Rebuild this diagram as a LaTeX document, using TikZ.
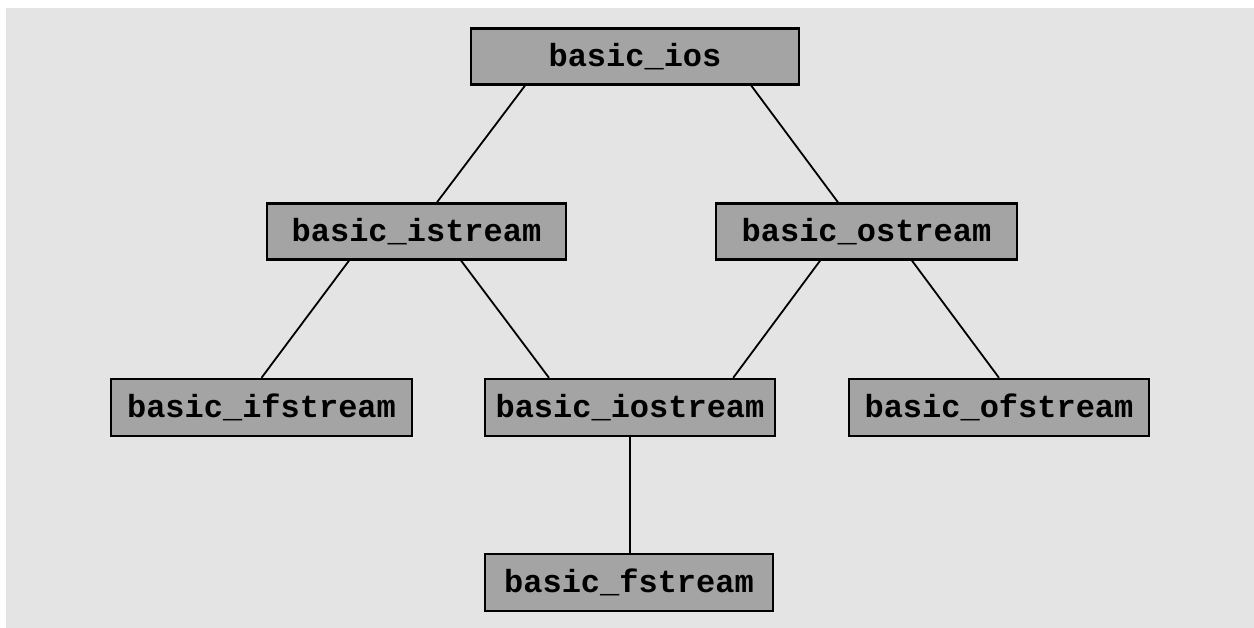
\documentclass[tikz,border=0pt]{standalone}
\usepackage{fontspec}
\setmonofont{Liberation Mono}
\usetikzlibrary{calc}
\definecolor{canvas}{HTML}{E4E4E4}
\definecolor{boxfill}{HTML}{A4A4A4}
\tikzset{
  cls/.style={draw=black, line width=2.4pt, fill=boxfill, inner sep=0pt,
    minimum height=56pt, font=\fontsize{32}{36}\selectfont\ttfamily\bfseries},
  link/.style={draw=black, line width=1.8pt}
}
\begin{document}
\begin{tikzpicture}[x=1pt,y=1pt]
  \useasboundingbox (0,0) rectangle (1254,628);
  \fill[white] (0,0) rectangle (1254,628);
  \fill[canvas] (6,0) rectangle (1254,620);

  % class boxes
  \node[cls, minimum width=328pt] (ios)      at (635,571.5) {basic\_ios};
  \node[cls, minimum width=299pt] (istream)  at (416.5,396.5) {basic\_istream};
  \node[cls, minimum width=301pt] (ostream)  at (866.5,396.5) {basic\_ostream};
  \node[cls, minimum width=301pt, minimum height=57pt] (ifstream) at (261.5,220.5) {basic\_ifstream};
  \node[cls, minimum width=290pt, minimum height=57pt] (iostream) at (630,220.5) {basic\_iostream};
  \node[cls, minimum width=300pt, minimum height=57pt] (ofstream) at (999,220.5) {basic\_ofstream};
  \node[cls, minimum width=288pt, minimum height=57pt] (fstream)  at (629,45.5) {basic\_fstream};

  % inheritance lines
  \draw[link] ($(ios.south west)!0.167!(ios.south east)$) -- ($(istream.north west)!0.568!(istream.north east)$);
  \draw[link] ($(ios.south west)!0.852!(ios.south east)$) -- ($(ostream.north west)!0.406!(ostream.north east)$);
  \draw[link] ($(istream.south west)!0.276!(istream.south east)$) -- (ifstream.north);
  \draw[link] ($(istream.south west)!0.648!(istream.south east)$) -- ($(iostream.north west)!0.223!(iostream.north east)$);
  \draw[link] ($(ostream.south west)!0.347!(ostream.south east)$) -- ($(iostream.north west)!0.853!(iostream.north east)$);
  \draw[link] ($(ostream.south west)!0.650!(ostream.south east)$) -- (ofstream.north);
  \draw[link] (iostream.south) -- (iostream.south |- fstream.north);
\end{tikzpicture}
\end{document}
